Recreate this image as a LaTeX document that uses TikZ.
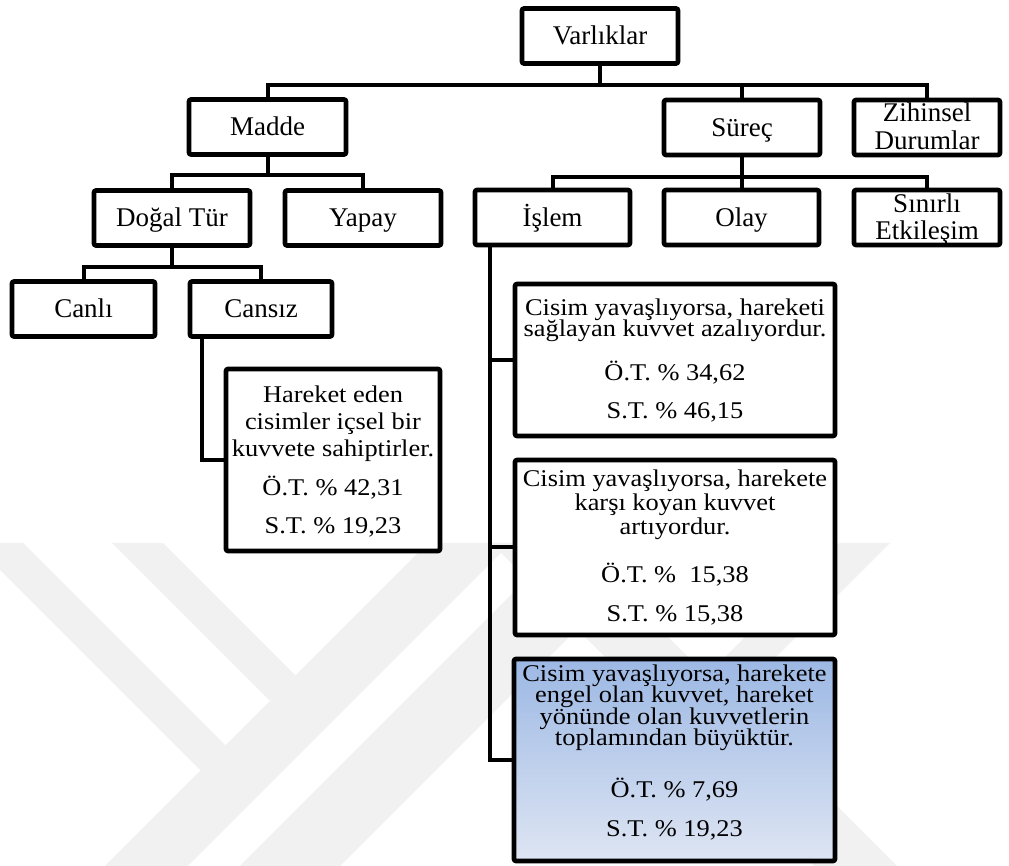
\documentclass[tikz,border=0pt]{standalone}
\usepackage{fontspec}
\setmainfont{Liberation Serif}
\newfontfamily\boxfont[FakeStretch=1.1]{Liberation Serif}
\definecolor{wmgray}{RGB}{241,241,241}
\definecolor{hitop}{RGB}{156,184,228}
\definecolor{hibot}{RGB}{222,229,243}
% centred lines with a fixed baseline distance
\newcommand\stackrows[2]{\vbox{\baselineskip=#1\lineskiplimit=-\maxdimen
  \let\\\cr\halign{\hfil##\hfil\cr#2\crcr}}}
\newcommand\gap[1]{\noalign{\vskip#1}}

\begin{document}
\begin{tikzpicture}[x = 0.5pt, y = -0.5pt,
    catbox/.style = {draw, line width = 2.3pt, rounded corners = 1pt,
      fill = white, inner sep = 0pt,
      font = {\fontsize{13.5}{13.75}\selectfont},
      minimum width = 78pt, minimum height = 27.5pt},
    cat/.style = {catbox, text height = 10.5pt, text depth = 1.5pt},
    claim/.style = {draw, line width = 2.3pt, rounded corners = 1pt,
      fill = white, inner sep = 0pt, font = {\boxfont\fontsize{12}{12}\selectfont},
      minimum width = 160pt, text height = #1, text depth = 0pt},
    link/.style = {line width = 2pt}]
    \useasboundingbox (0,0) rectangle (1009,866);

    % faint stripes in the lower half
    \begin{scope}
      \clip (0,543) rectangle (1009,866);
      \fill [wmgray] (-27,543) -- (23,543) -- (225.5,745.5) -- (200.5,770.5) -- cycle;
      \fill [wmgray] (112,543) -- (163,543) -- (295.5,675.5) -- (270,701) -- cycle;
      \fill [wmgray] (105,866) -- (188,866) -- (511,543) -- (428,543) -- cycle;
      \fill [wmgray] (240,866) -- (340,866) -- (663,543) -- (563,543) -- cycle;
      \fill [wmgray] (897,866) -- (814,866) -- (491,543) -- (574,543) -- cycle;
      \fill [wmgray] (890,543) -- (839,543) -- (706.5,675.5) -- (732,701) -- cycle;
    \end{scope}

    % top levels
    \node [cat] (varliklar) at (600,36) {Varlıklar};
    \node [cat, minimum width = 78.5pt] (madde) at (267.5,127) {Madde};
    \node [cat] (surec) at (742,127.5) {Süreç};
    \node [catbox, minimum width = 73pt, text height = 22.5pt, text depth = 0pt]
      (zihinsel) at (927,127.5) {\stackrows{14pt}{Zihinsel\\Durumlar}};
    \node [cat] (dogal) at (172,218) {Doğal Tür};
    \node [cat] (yapay) at (363,218) {Yapay};
    \node [cat, minimum width = 77.5pt] (islem) at (552.5,217.5) {İşlem};
    \node [cat, minimum width = 77.5pt] (olay) at (741.5,217.5) {Olay};
    \node [catbox, minimum width = 73pt, text height = 22.5pt, text depth = 0pt]
      (sinirli) at (927,217.5) {\stackrows{13.5pt}{Sınırlı\\Etkileşim}};
    \node [cat, minimum width = 71.5pt] (canli) at (83.5,309) {Canlı};
    \node [cat, minimum width = 71pt] (cansiz) at (261,309) {Cansız};

    % conceptions with percentages
    \node [claim = 74pt, minimum width = 107pt, minimum height = 91pt]
      (hareket) at (333,460)
      {\stackrows{13.75pt}{Hareket eden\\cisimler içsel bir\\kuvvete sahiptirler.\\\gap{5.75pt}
       Ö.T. \% 42,31\\\gap{5.25pt}S.T. \% 19,23}};
    \node [claim = 59pt, minimum height = 76pt] (yavas1) at (675,360)
      {\stackrows{10.5pt}{Cisim yavaşlıyorsa, hareketi\\sağlayan kuvvet azalıyordur.\\\gap{11.5pt}
       Ö.T. \% 34,62\\\gap{8.5pt}S.T. \% 46,15}};
    \node [claim = 74.5pt, minimum height = 87.5pt] (yavas2) at (675,547.5)
      {\stackrows{12pt}{Cisim yavaşlıyorsa, harekete\\karşı koyan kuvvet\\artıyordur.\\\gap{12pt}
       Ö.T. \%\ \ 15,38\\\gap{7.5pt}S.T. \% 15,38}};
    \node [claim = 77pt, minimum width = 160.5pt, minimum height = 101pt,
      top color = hitop, bottom color = hibot] (yavas3) at (674.5,760)
      {\stackrows{10.75pt}{Cisim yavaşlıyorsa, harekete\\engel olan kuvvet, hareket\\
       yönünde olan kuvvetlerin\\toplamından büyüktür.\\\gap{15.25pt}
       Ö.T. \% 7,69\\\gap{8.75pt}S.T. \% 19,23}};

    % tree lines
    \draw [link] (varliklar.south) -- ++(0,19) coordinate (t0);
    \draw [link] (madde.north) |- (t0) -| (zihinsel.north);
    \draw [link] (surec.north) -- (surec.north |- t0);
    \draw [link] (madde.south) -- ++(0,18) coordinate (t1);
    \draw [link] (dogal.north) |- (t1) -| (yapay.north);
    \draw [link] (surec.south) -- ++(0,20) coordinate (t2);
    \draw [link] (islem.north) |- (t2) -| (sinirli.north);
    \draw [link] (olay.north) -- (olay.north |- t2);
    \draw [link] (dogal.south) -- ++(0,19) coordinate (t3);
    \draw [link] (canli.north) |- (t3) -| (cansiz.north);
    \draw [link] ([xshift = 7pt]cansiz.south west) |- (hareket.west);
    \foreach \b in {yavas1, yavas2, yavas3} {
      \draw [link] ([xshift = 8.5pt]islem.south west) |- (\b.west);
    }
  \end{tikzpicture}
\end{document}
